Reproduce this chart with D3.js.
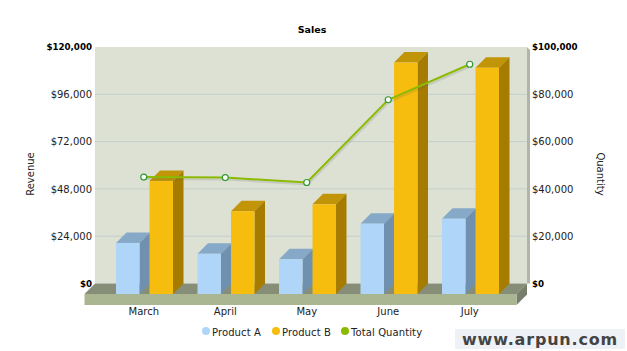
<html>
<head>
  <title>Sales</title>
  <meta charset="utf-8" />
  <script src="https://cdnjs.cloudflare.com/ajax/libs/d3/7.8.5/d3.min.js"></script>
  <style>
    html, body { margin: 0; padding: 0; background: #fff; }
    svg { display: block; }
    text { font-family: "DejaVu Sans", Verdana, sans-serif; fill: #222; }
    path.domain { stroke: none; }
    .tick > line { stroke: none; }
  </style>
</head>
<body>
  <svg></svg>
  <script>
  const months = ["March", "April", "May", "June", "July"];
  const productA = [25900, 20400, 17600, 35700, 38200];
  const productB = [57300, 42000, 45500, 117400, 114800];
  const totalQuantity = [45000, 44800, 42700, 77700, 92700];
  const revenueTicks = [0, 24000, 48000, 72000, 96000, 120000];
  const quantityTicks = [0, 20000, 40000, 60000, 80000, 100000];

  const width = 627, height = 351;
  const wall = { left: 95, right: 527, top: 47, bottom: 283.5 };
  const depth = { x: 10.5, y: 10.5 };
  const floorHeight = 11;

  const svg = d3.select("svg").attr("width", width).attr("height", height);

  const xScale = d3.scaleBand().domain(months).range([103, 510.5]);
  const productScale = d3.scaleBand().domain(["A", "B"]).range([0, 57]).paddingInner(0.3);
  const yLeft = d3.scaleLinear().domain([0, 120000]).range([wall.bottom, wall.top]);
  const yRight = d3.scaleLinear().domain([0, 100000]).range([wall.bottom, wall.top]);
  const money = d => "$" + d3.format(",")(d);

  // back wall and its right edge
  svg.append("rect")
    .attr("x", wall.left).attr("y", wall.top)
    .attr("width", wall.right - wall.left).attr("height", wall.bottom - wall.top)
    .attr("fill", "#dce1d4");
  svg.append("path")
    .attr("d", `M${wall.right},${wall.top} L${wall.right + 3},${wall.top + 3} L${wall.right + 3},${wall.bottom} L${wall.right},${wall.bottom} Z`)
    .attr("fill", "#b1b4a9");

  // grid
  svg.selectAll("line.grid")
    .data(revenueTicks.slice(1, -1))
    .enter()
    .append("line")
      .attr("class", "grid")
      .attr("x1", wall.left).attr("x2", wall.right)
      .attr("y1", d => yLeft(d)).attr("y2", d => yLeft(d))
      .attr("stroke", "#c4cec8");

  // floor
  const fl = wall.left - depth.x, fr = wall.right - depth.x, fy = wall.bottom + depth.y;
  svg.append("path")
    .attr("d", `M${wall.left},${wall.bottom} L${wall.right},${wall.bottom} L${fr},${fy} L${fl},${fy} Z`)
    .attr("fill", "#868e78");
  svg.append("path")
    .attr("d", `M${wall.right},${wall.bottom} L${wall.right},${wall.bottom + floorHeight} L${fr},${fy + floorHeight} L${fr},${fy} Z`)
    .attr("fill", "#777e6b");
  svg.append("rect")
    .attr("x", fl).attr("y", fy).attr("width", fr - fl).attr("height", floorHeight)
    .attr("fill", "#aab592");

  // bars
  const series = [
    { key: "A", values: productA, front: "#afd6f8", top: "#87a9c8", side: "#7090af" },
    { key: "B", values: productB, front: "#f6bd0f", top: "#c29509", side: "#a67c00" }
  ];
  const barWidth = productScale.bandwidth();
  series.forEach(s => {
    const bar = svg.selectAll("g.bar" + s.key)
      .data(months.map((m, i) => ({ month: m, value: s.values[i] })))
      .enter()
      .append("g")
        .attr("class", "bar" + s.key)
        .attr("transform", d => `translate(${xScale(d.month) + 13 + productScale(s.key)},${yLeft(d.value) + depth.y})`);
    bar.append("path")
      .attr("d", `M0,0 L${depth.x},${-depth.y} L${barWidth + depth.x},${-depth.y} L${barWidth},0 Z`)
      .attr("fill", s.top);
    bar.append("path")
      .attr("d", d => {
        const h = yLeft(0) - yLeft(d.value);
        return `M${barWidth},0 L${barWidth + depth.x},${-depth.y} L${barWidth + depth.x},${h - depth.y} L${barWidth},${h} Z`;
      })
      .attr("fill", s.side);
    bar.append("rect")
      .attr("width", barWidth)
      .attr("height", d => yLeft(0) - yLeft(d.value))
      .attr("fill", s.front);
  });

  // quantity line
  const lineData = months.map((m, i) => ({ month: m, value: totalQuantity[i] }));
  const line = d3.line()
    .x(d => xScale(d.month) + xScale.bandwidth() / 2)
    .y(d => yRight(d.value));
  svg.append("path")
    .attr("d", line(lineData))
    .attr("transform", "translate(1,2)")
    .attr("fill", "none")
    .attr("stroke", "#555")
    .attr("stroke-opacity", 0.16)
    .attr("stroke-width", 2);
  svg.append("path")
    .attr("d", line(lineData))
    .attr("fill", "none")
    .attr("stroke", "#8bba00")
    .attr("stroke-width", 2);
  svg.selectAll("circle.qty")
    .data(lineData)
    .enter()
    .append("circle")
      .attr("class", "qty")
      .attr("r", 3)
      .attr("cx", d => xScale(d.month) + xScale.bandwidth() / 2)
      .attr("cy", d => yRight(d.value))
      .attr("fill", "#fff")
      .attr("stroke", "#2f9a2f")
      .attr("stroke-width", 1.2);

  // axes
  const leftAxis = d3.axisLeft(yLeft).tickValues(revenueTicks).tickFormat(money).tickSize(0).tickPadding(3);
  const rightAxis = d3.axisRight(yRight).tickValues(quantityTicks).tickFormat(money).tickSize(0).tickPadding(2);
  const gLeft = svg.append("g").attr("transform", `translate(${wall.left},0)`).call(leftAxis);
  const gRight = svg.append("g").attr("transform", `translate(${wall.right + 3},0)`).call(rightAxis);
  [gLeft, gRight].forEach(g => {
    g.selectAll("text").attr("font-size", 10).style("font-family", '"DejaVu Sans", Verdana, sans-serif').style("fill", "#222");
    g.selectAll(".tick text").filter(d => d === 0 || d === 120000 || d === 100000)
      .attr("font-size", 8.7).attr("font-weight", "bold").style("fill", "#000");
  });

  const gX = svg.append("g").attr("transform", "translate(0,305)")
    .call(d3.axisBottom(xScale).tickSize(0).tickPadding(3));
  gX.selectAll("text").attr("font-size", 10).style("font-family", '"DejaVu Sans", Verdana, sans-serif').style("fill", "#222");

  // titles
  svg.append("text").attr("x", 312).attr("y", 33).attr("text-anchor", "middle")
    .attr("font-size", 9.5).attr("font-weight", "bold").style("fill", "#000").text("Sales");
  svg.append("text").attr("transform", "translate(34,174) rotate(-90)").attr("text-anchor", "middle")
    .attr("font-size", 10).text("Revenue");
  svg.append("text").attr("transform", "translate(597,174) rotate(90)").attr("text-anchor", "middle")
    .attr("font-size", 10).text("Quantity");

  // legend
  const legendNames = ["Product A", "Product B", "Total Quantity"];
  const legendColors = ["#afd6f8", "#f6bd0f", "#8bba00"];
  const legendX = [206, 276, 345];
  legendNames.forEach((name, i) => {
    svg.append("circle").attr("cx", legendX[i]).attr("cy", 331).attr("r", 4).attr("fill", legendColors[i]);
    svg.append("text").attr("x", legendX[i] + 6).attr("y", 336).attr("font-size", 10).attr("letter-spacing", 0.1).text(name);
  });

  // watermark
  svg.append("rect").attr("x", 455).attr("y", 329).attr("width", 170).attr("height", 20).attr("fill", "#eef2f6");
  svg.append("text").attr("x", 540).attr("y", 345).attr("text-anchor", "middle")
    .attr("font-size", 16).attr("font-weight", "bold").attr("letter-spacing", 0.8)
    .style("fill", "#444").text("www.arpun.com");
  </script>
</body>
</html>
